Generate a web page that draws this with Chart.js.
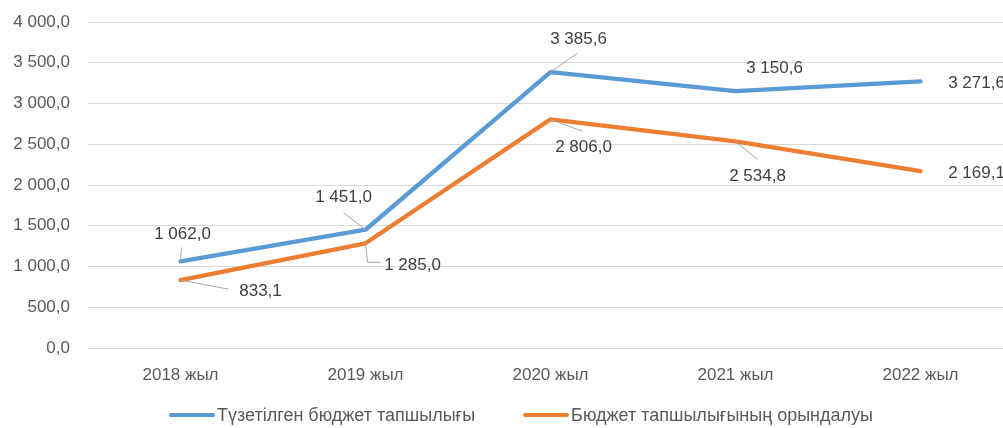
<!DOCTYPE html>
<html>
<head>
<meta charset="utf-8">
<script src="https://cdn.jsdelivr.net/npm/chart.js@4/dist/chart.umd.min.js"></script>
<style>
  html, body { margin: 0; padding: 0; background: #fff; overflow: hidden; }
  #wrap { position: relative; width: 1013px; height: 428px; }
</style>
</head>
<body>
<div id="wrap"><canvas id="c"></canvas></div>
<script>
const categories = ['2018 жыл', '2019 жыл', '2020 жыл', '2021 жыл', '2022 жыл'];
const seriesNames = ['Түзетілген бюджет тапшылығы', 'Бюджет тапшылығының орындалуы'];
const adjustedDeficit = [1062.0, 1451.0, 3385.6, 3150.6, 3271.6];
const executedDeficit = [833.1, 1285.0, 2806.0, 2534.8, 2169.1];
const yMin = 0, yMax = 4000, yStep = 500;

const FONT = "'Liberation Sans', Arial, sans-serif";

function fmt(v) {
  const s = Number(v).toFixed(1);
  const parts = s.split('.');
  return parts[0].replace(/\B(?=(\d{3})+(?!\d))/g, ' ') + ',' + parts[1];
}

// label placement (pixel offsets from the point) and leader-line ends
const labelLayout = [
  { pos: [[2,-27],[-22,-32],[28,-33],[39,-23],[56,2]],
    lead: [[1,-14],[-22,-17],[27,-19],null,null] },
  { pos: [[80,11],[47,22],[33,28],[22,35],[56,2]],
    lead: [[48,9],null,[32,12],[22,18],null],
    elbow: [null,[[2,19],[15,19]],null,null,null] }
];

const dataLabelPlugin = {
  id: 'dataLabels',
  afterDatasetsDraw(chart) {
    const ctx = chart.ctx;
    ctx.save();
    chart.data.datasets.forEach((ds, di) => {
      const meta = chart.getDatasetMeta(di);
      const lay = labelLayout[di];
      meta.data.forEach((pt, i) => {
        const x = pt.x, y = pt.y;
        ctx.strokeStyle = '#A6A6A6';
        ctx.lineWidth = 1;
        if (lay.elbow && lay.elbow[i]) {
          ctx.beginPath();
          ctx.moveTo(x, y);
          lay.elbow[i].forEach(p => ctx.lineTo(x + p[0], y + p[1]));
          ctx.stroke();
        } else if (lay.lead[i]) {
          ctx.beginPath();
          ctx.moveTo(x, y);
          ctx.lineTo(x + lay.lead[i][0], y + lay.lead[i][1]);
          ctx.stroke();
        }
        ctx.fillStyle = '#404040';
        ctx.font = '17px ' + FONT;
        ctx.textAlign = 'center';
        ctx.textBaseline = 'middle';
        ctx.fillText(fmt(ds.data[i]), x + lay.pos[i][0], y + lay.pos[i][1]);
      });
    });
    ctx.restore();
  }
};

const legendPlugin = {
  id: 'customLegend',
  afterDraw(chart) {
    const ctx = chart.ctx;
    const o = chart.options.plugins.customLegend;
    ctx.save();
    ctx.font = o.fontSize + 'px ' + o.font;
    const items = chart.data.datasets.map(ds => ({
      text: ds.label, color: ds.borderColor, w: ctx.measureText(ds.label).width
    }));
    let total = 0;
    items.forEach((it, k) => { total += o.lineLen + o.textGap + it.w + (k ? o.itemGap : 0); });
    let x = o.centerX - total / 2;
    items.forEach(it => {
      ctx.strokeStyle = it.color;
      ctx.lineWidth = 4;
      ctx.lineCap = 'round';
      ctx.beginPath();
      ctx.moveTo(x + 2, o.y);
      ctx.lineTo(x + o.lineLen - 2, o.y);
      ctx.stroke();
      ctx.fillStyle = '#595959';
      ctx.textAlign = 'left';
      ctx.textBaseline = 'middle';
      ctx.fillText(it.text, x + o.lineLen + o.textGap, o.y + 1);
      x += o.lineLen + o.textGap + it.w + o.itemGap;
    });
    ctx.restore();
  }
};

new Chart(document.getElementById('c'), {
  type: 'line',
  data: {
    labels: categories,
    datasets: [
      { label: seriesNames[0], data: adjustedDeficit, borderColor: '#5B9BD5', backgroundColor: '#5B9BD5',
        borderWidth: 4.3, pointRadius: 0, tension: 0, borderCapStyle: 'round', borderJoinStyle: 'round' },
      { label: seriesNames[1], data: executedDeficit, borderColor: '#ED7D31', backgroundColor: '#ED7D31',
        borderWidth: 4.3, pointRadius: 0, tension: 0, borderCapStyle: 'round', borderJoinStyle: 'round' }
    ]
  },
  options: {
    responsive: true,
    maintainAspectRatio: false,
    animation: false,
    layout: { padding: { top: 22, right: 0, bottom: 40, left: 0 } },
    plugins: {
      legend: { display: false },
      tooltip: { enabled: false },
      customLegend: { y: 415, centerX: 521, lineLen: 46, textGap: 2, itemGap: 48, fontSize: 18, font: FONT }
    },
    scales: {
      x: {
        offset: true,
        grid: { display: false, drawTicks: false },
        border: { display: false },
        ticks: { color: '#595959', font: { size: 17, family: FONT }, padding: 17, maxRotation: 0 },
        afterFit(s) { s.height = 40; }
      },
      y: {
        min: yMin, max: yMax,
        grid: { color: '#D9D9D9', lineWidth: 1, drawTicks: false },
        border: { display: false },
        ticks: { stepSize: yStep, color: '#595959', font: { size: 17, family: FONT }, padding: 18,
                 callback: v => fmt(v) },
        afterFit(s) { s.width = 88; s.paddingTop = 0; s.paddingBottom = 0; }
      }
    }
  },
  plugins: [dataLabelPlugin, legendPlugin]
});
</script>
</body>
</html>
